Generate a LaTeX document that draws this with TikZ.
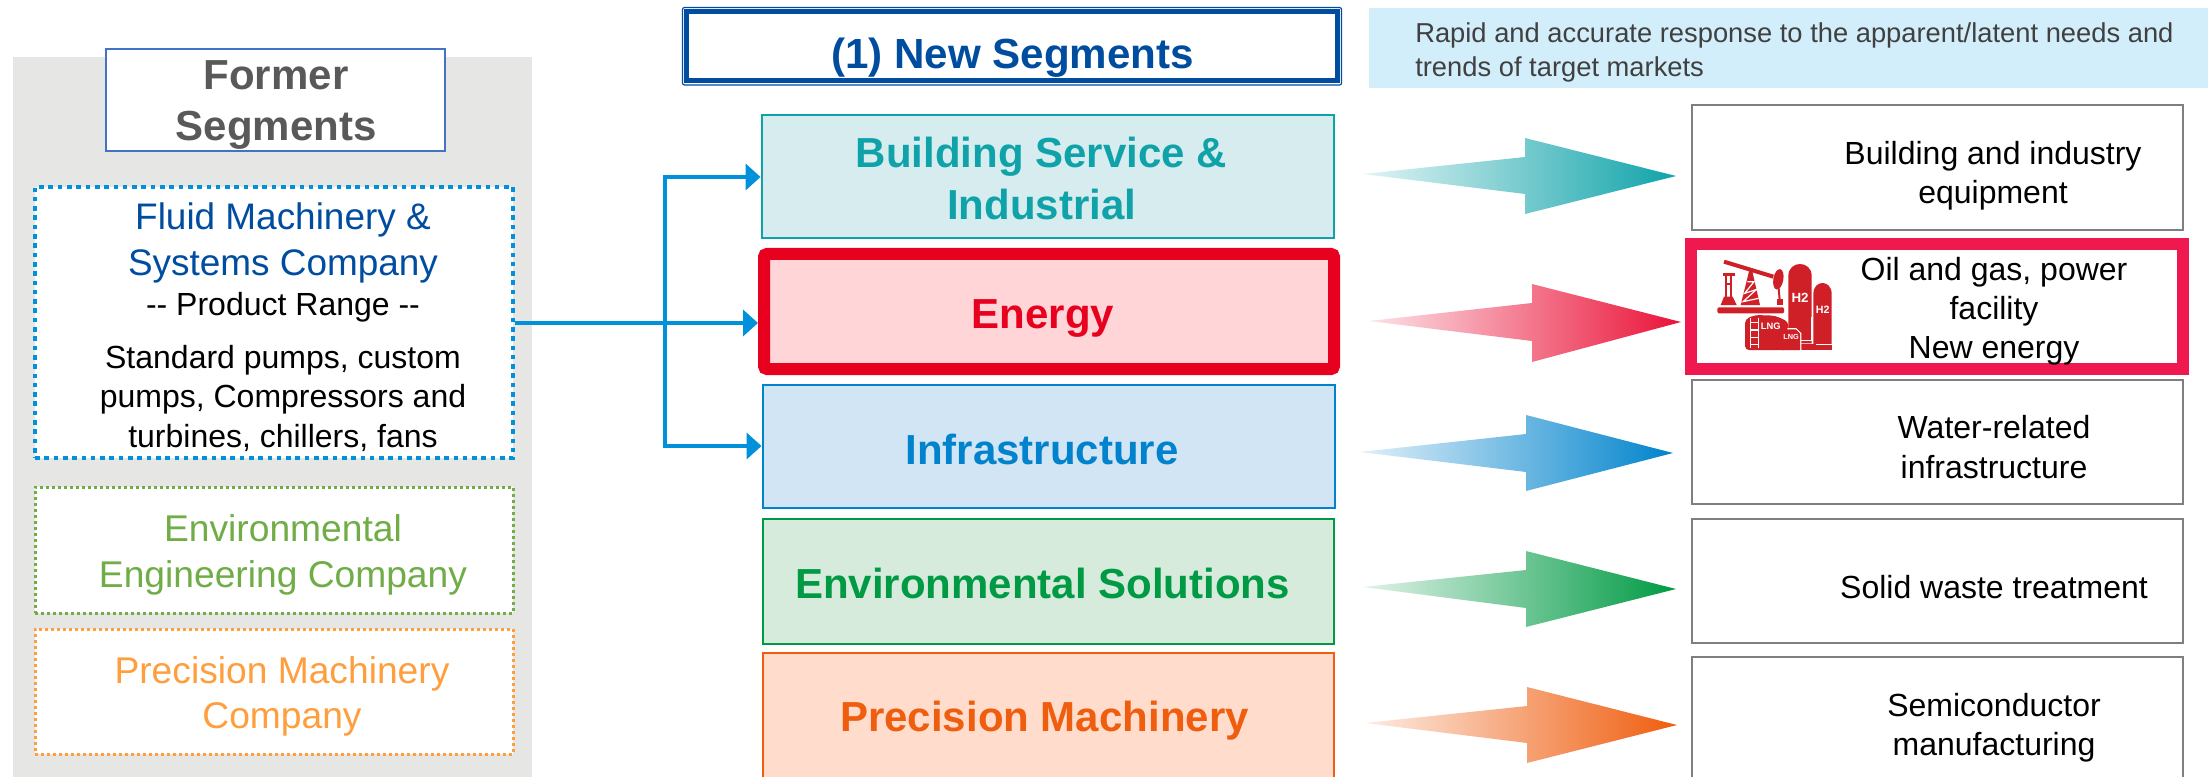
\documentclass[tikz,border=0pt]{standalone}
\usepackage{fontspec}
\setmainfont{Liberation Sans}
\usetikzlibrary{arrows.meta,shadings}
\def\px{0.75pt}
\definecolor{panelgray}{HTML}{E6E6E4}
\definecolor{framebl}{HTML}{4472C4}
\definecolor{navy}{HTML}{004DA0}
\definecolor{skyb}{HTML}{0091DA}
\definecolor{paleb}{HTML}{D3EEFB}
\definecolor{tealc}{HTML}{0FA3A9}
\definecolor{tealf}{HTML}{D6ECEE}
\definecolor{redc}{HTML}{E8001F}
\definecolor{redf}{HTML}{FFD5D7}
\definecolor{bluec}{HTML}{0083CC}
\definecolor{bluef}{HTML}{D2E5F5}
\definecolor{greenc}{HTML}{009A44}
\definecolor{greenf}{HTML}{D6EBDC}
\definecolor{orangec}{HTML}{EF5D0E}
\definecolor{orangef}{HTML}{FFDCCB}
\definecolor{pinkred}{HTML}{F0194F}
\definecolor{arrowred}{HTML}{EA1238}
\definecolor{iconred}{HTML}{CF2027}
\definecolor{leafg}{HTML}{70AD47}
\definecolor{amber}{HTML}{FF9E3D}
\definecolor{txgray}{HTML}{595959}
\definecolor{darktx}{HTML}{404040}
\definecolor{edgegray}{HTML}{7F7F7F}
\newcommand\fsz[2]{\fontsize{#1}{#2}\selectfont}
% name, style, x1, y1, x2, y2 (centre of stroke), text
\newcommand\rectnode[7]{\node[#2,minimum width={(#5-#3)*\px},minimum height={(#6-#4)*\px}] (#1) at ({(#3+#5)/2},{(#4+#6)/2}) {#7};}
\tikzset{
  every node/.style={inner sep=0pt,align=center,font=\fsz{24}{29.4}},
  segbox/.style={draw,line width=2.9*\px},
  segtxt/.style={font=\bfseries\fsz{31.5}{39.5}},
  targetbox/.style={draw=edgegray,line width=2.8*\px,fill=white},
  targettxt/.style={text=black,font=\fsz{24}{29.4}},
  bigdots/.style={draw=skyb,fill=white,line width=4*\px,dash pattern=on 4.6*\px off 4.7*\px},
  smalldots/.style={fill=white,line width=3*\px,dash pattern=on 3*\px off 3*\px},
  conn/.style={draw=skyb,line width=3.9*\px,-{Triangle[length=15*\px,width=26*\px]}},
  grad/.style={left color=#1!12,right color=#1,draw=none},
  icon/.style={fill=iconred,draw=none},
}
\begin{document}
\begin{tikzpicture}[x=\px,y=-\px]
\useasboundingbox (0,0) rectangle (2208,777);
\clip (0,0) rectangle (2208,777);
% panel
\fill[panelgray] (13,57) rectangle (532,780);
\rectnode{former}{draw=framebl,fill=white,line width=2.6*\px}{106}{49}{445}{151}{}
\node[text=txgray,font=\bfseries\fsz{31.5}{38.5}] (formert) at (276,105) {Former\\Segments};
\rectnode{fluid}{bigdots}{35}{187}{513}{458}{}
\node[text=navy,font=\fsz{27.7}{34}] (fluidt) at (283,243) {Fluid Machinery \&\\Systems Company};
\node[font=\fsz{24}{29}] (range) at (283,307) {-{}- Product Range -{}-};
\node[font=\fsz{24}{29.6}] (prod) at (283,398) {Standard pumps, custom\\pumps, Compressors and\\turbines, chillers, fans};
\rectnode{envco}{smalldots,draw=leafg}{35}{487}{513}{613}{}
\node[text=leafg,font=\fsz{27.9}{34}] (envcot) at (283,555) {Environmental\\Engineering Company};
\rectnode{preco}{smalldots,draw=amber}{35}{629}{513}{754}{}
\node[text=amber,font=\fsz{27.9}{34}] (precot) at (282,696.5) {Precision Machinery\\Company};
% header
\rectnode{hdrouter}{draw=navy,line width=1.2*\px,rounded corners=2*\px}{682.5}{7.5}{1341.5}{85}{}
\rectnode{hdr}{draw=navy,fill=white,line width=5*\px}{686.5}{12}{1337}{80.5}{}
\node[text=navy,font=\bfseries\fsz{31.6}{38}] (hdrt) at (1012.5,58) {(1) New Segments};
\rectnode{note}{fill=paleb}{1369}{8}{2208}{88}{}
\node[anchor=west,align=left,text=darktx,font=\fsz{20.5}{25.5}] (notet) at (1415,52) {Rapid and accurate response to the apparent/latent needs and\\trends of target markets};
% centre boxes
\rectnode{building}{segbox,draw=tealc,fill=tealf}{762}{115}{1334}{238}{}
\node[segtxt,text=tealc] (buildingt) at (1041.5,178.5) {Building Service \&\\Industrial};
\rectnode{energy}{segbox,draw=redc,fill=redf,line width=12*\px,rounded corners=3*\px}{764}{254}{1334}{369}{}
\node[segtxt,text=redc] (energyt) at (1043,318.5) {Energy};
\rectnode{infra}{segbox,draw=bluec,fill=bluef}{763}{385}{1335}{508}{}
\node[segtxt,text=bluec] (infrat) at (1042,449.5) {Infrastructure};
\rectnode{envsol}{segbox,draw=greenc,fill=greenf}{763}{519}{1334}{644}{}
\node[segtxt,text=greenc] (envsolt) at (1042.5,583) {Environmental Solutions};
\rectnode{prec}{segbox,draw=orangec,fill=orangef}{763}{653}{1334}{778}{}
\node[segtxt,text=orangec] (prect) at (1044.5,721) {Precision Machinery};
% connectors
\coordinate (jc) at (665,323);
\coordinate (jt) at (665,177);
\coordinate (jb) at (665,446);
\draw[conn] (fluid.east |- jc) -- (energy.west |- jc);
\draw[conn] (jc) -- (jt) -- (building.west |- jt);
\draw[conn] (jc) -- (jb) -- (infra.west |- jb);
% gradient arrows
\shade[grad=tealc] (1363,174) -- (1525,157) -- (1525,138) -- (1676,176) -- (1525,214) -- (1525,194) -- cycle;
\shade[grad=arrowred] (1369,321) -- (1532,303) -- (1532,284) -- (1681,322) -- (1532,362) -- (1532,341) -- cycle;
\shade[grad=bluec] (1360,452) -- (1526,434) -- (1526,415) -- (1673,453) -- (1526,491) -- (1526,472) -- cycle;
\shade[grad=greenc] (1363,587) -- (1526,570) -- (1526,551) -- (1676,589) -- (1526,627) -- (1526,608) -- cycle;
\shade[grad=orangec] (1365,723) -- (1527,706) -- (1527,687) -- (1677,725) -- (1527,763) -- (1527,743) -- cycle;
% targets
\rectnode{t1}{targetbox}{1692}{105}{2183}{230}{}
\rectnode{t2}{targetbox,draw=pinkred,line width=12*\px}{1691}{244}{2183}{369}{}
\rectnode{t3}{targetbox}{1692}{380}{2183}{504}{}
\rectnode{t4}{targetbox}{1692}{519}{2183}{643}{}
\rectnode{t5}{targetbox}{1692}{657}{2183}{782}{}
\node[targettxt] (t1t) at (1993,176) {Building and industry\\equipment};
\node[targettxt] (t2t) at (1994,311) {Oil and gas, power\\facility\\New energy};
\node[targettxt] (t3t) at (1994,447) {Water-related\\infrastructure};
\node[targettxt] (t4t) at (1994,587) {Solid waste treatment};
\node[targettxt] (t5t) at (1994,728) {Semiconductor\\manufacturing};
% icon (units: thirds of a pixel from its corner)
\begin{scope}[shift={(1710,250)},x=0.25pt,y=-0.25pt]
  \fill[icon,rounded corners=1pt] (22,172) rectangle (222,190);
  \draw[iconred,line width=3pt] (42,35) -- (190,80);
  \fill[icon] (205,88) ellipse[x radius=15,y radius=31,rotate=-10];
  \fill[icon] (38,70) rectangle (76,78);
  \fill[icon] (44,78) rectangle (50,140);
  \fill[icon] (60,78) rectangle (66,140);
  \fill[icon] (44,100) rectangle (66,106);
  \fill[icon] (42,140) -- (68,140) -- (80,165) -- (32,165) -- cycle;
  \fill[icon] (118,60) -- (126,60) -- (150,165) -- (92,165) -- cycle;
  \draw[white,line width=0.9pt] (112,95) -- (132,95) -- (104,130) -- (140,118) -- (99,155) -- (146,145);
  \draw[iconred,line width=1.5pt] (206,115) -- (209,150);
  \fill[icon] (200,148) rectangle (218,166);
  \fill[icon] (235,280) -- (235,78) .. controls (235,30) and (305,30) .. (305,78) -- (305,280) -- cycle;
  \fill[icon] (310,285) -- (310,132) .. controls (310,88) and (365,88) .. (365,132) -- (365,285) -- cycle;
  \fill[icon] (270,283) rectangle (365,300);
  \fill[icon,rounded corners=3pt] (105,300) -- (105,208) -- (135,195) -- (195,197) -- (235,215) -- (235,300) -- cycle;
  \draw[white,line width=0.9pt] (232,236) -- (258,236) -- (272,250) -- (272,300);
  \fill[icon] (215,240) -- (258,240) -- (270,252) -- (270,300) -- (215,300) -- cycle;
  \draw[white,line width=0.9pt] (272,272) -- (305,272) -- (305,200);
  \draw[white,line width=0.9pt] (318,283) -- (365,283);
  \draw[white,line width=0.9pt] (121,205) -- (121,295) (145,205) -- (145,295)
     (121,218) -- (145,218) (121,240) -- (145,240) (121,262) -- (145,262) (121,284) -- (145,284);
  \node[text=white,font=\bfseries\fontsize{10}{11}\selectfont] (hb) at (270,143) {H2};
  \node[text=white,font=\bfseries\fontsize{8}{9}\selectfont] (hs) at (338,178) {H2};
  \node[text=white,font=\bfseries\fontsize{7}{8}\selectfont] (lb) at (182,230) {LNG};
  \node[text=white,font=\bfseries\fontsize{5.5}{6}\selectfont] (ls) at (243,262) {LNG};
\end{scope}
\end{tikzpicture}
\end{document}
